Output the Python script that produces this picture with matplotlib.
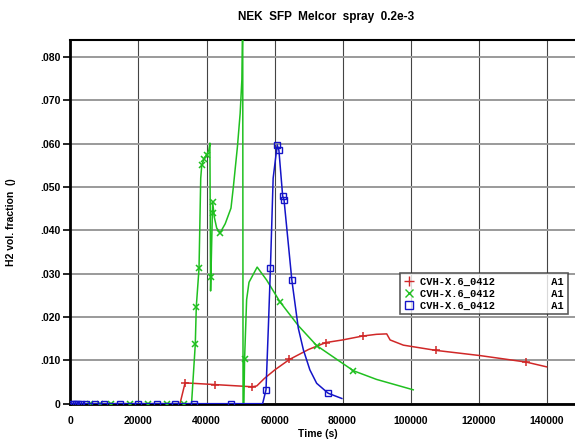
import numpy as np
import matplotlib.pyplot as plt
from matplotlib.lines import Line2D

# ---- data (time in s, H2 volume fraction) ----
red_t = [0, 32200, 33700, 42600, 53500, 54800, 57000, 60100, 64400, 70000,
         75100, 80000, 85900, 90000, 93000, 94000, 97900, 107400, 120400, 134000, 140000]
red_y = [0, 0, 0.0048, 0.0044, 0.0039, 0.0041, 0.0058, 0.0078, 0.0102, 0.0125,
         0.0141, 0.0147, 0.0156, 0.0160, 0.0161, 0.0147, 0.0135, 0.0123, 0.0111, 0.0096, 0.0085]
red_mt = [33700, 42600, 53500, 64400, 75100, 85900, 107400, 134000]
red_my = [0.0048, 0.0044, 0.0039, 0.0102, 0.0141, 0.0156, 0.0123, 0.0096]

green_t = [0, 35600, 36700, 37000, 37800, 38300, 38600, 39300, 40000, 40700, 41000,
           41200, 41300, 41800, 42300, 43000, 44000, 45500, 47200, 47900, 49100, 49900,
           50400, 50650, 50750, 51000, 51200, 51800, 52500, 54900, 57700, 61600, 67000,
           72400, 83200, 90000, 100800]
green_y = [0, 0, 0.0137, 0.0224, 0.0312, 0.052, 0.055, 0.0565, 0.0574, 0.0585, 0.0601,
           0.026, 0.0293, 0.0466, 0.0430, 0.0405, 0.0394, 0.0415, 0.0451, 0.050, 0.0593, 0.067,
           0.0747, 0.090, 0, 0, 0.0103, 0.024, 0.028, 0.0315, 0.0285, 0.0235, 0.0180,
           0.0134, 0.0076, 0.0056, 0.0032]
green_mt = [5700, 8700, 12000, 17500, 22900, 28300, 33500, 36700, 37000, 37800, 38600,
            39300, 40000, 41300, 41800, 42000, 44000, 51200, 61600, 72400, 83200]
green_my = [0, 0, 0, 0, 0, 0, 0, 0.0137, 0.0224, 0.0312, 0.055,
            0.0565, 0.0574, 0.0293, 0.0466, 0.0440, 0.0394, 0.0103, 0.0235, 0.0134, 0.0076]

blue_t = [0, 56500, 57500, 58200, 58800, 59600, 60800, 61300, 61600, 62400, 62800,
          65100, 67000, 68500, 70400, 72400, 75800, 79800]
blue_y = [0, 0, 0.0032, 0.0178, 0.0312, 0.052, 0.0597, 0.0584, 0.0555, 0.0479, 0.0470,
          0.0285, 0.0174, 0.0124, 0.0078, 0.0047, 0.0024, 0.0012]
blue_mt = [350, 1000, 1600, 2300, 3100, 4600, 7200, 9900, 14600, 20000, 25400, 30800,
           36300, 47100, 57400, 58800, 60800, 61300, 62400, 62800, 65100, 75800]
blue_my = [0, 0, 0, 0, 0, 0, 0, 0, 0, 0, 0, 0,
           0, 0, 0.0032, 0.0312, 0.0597, 0.0584, 0.0479, 0.0470, 0.0285, 0.0024]

x_ticks = [0, 20000, 40000, 60000, 80000, 100000, 120000, 140000]
y_ticks = [0, 0.01, 0.02, 0.03, 0.04, 0.05, 0.06, 0.07, 0.08]
y_labels = ['0', '.010', '.020', '.030', '.040', '.050', '.060', '.070', '.080']
leg_label = 'CVH-X.6_0412         A1'

red = '#d02828'
green = '#20c020'
blue = '#1414c8'

plt.rcParams['font.family'] = ['Liberation Sans', 'DejaVu Sans']
fig = plt.figure(figsize=(5.75, 4.44), dpi=100, facecolor='white')
ax = fig.add_axes([0.1226, 0.0908, 0.8870, 0.8193])

ax.plot(red_t, red_y, '-', color=red, lw=1.1, zorder=3)
ax.plot(red_mt, red_my, '+', color=red, ms=6, mew=1.1, zorder=3)
ax.plot(green_t, green_y, '-', color=green, lw=1.1, zorder=4)
ax.plot(green_mt, green_my, 'x', color=green, ms=4, mew=1.1, zorder=4)
ax.plot(blue_t, blue_y, '-', color=blue, lw=1.1, zorder=5)
ax.plot(blue_mt, blue_my, 's', color=blue, ms=4, mfc='none', mew=1.0, zorder=5)

ax.set_xlim(0, 150000)
ax.set_ylim(0, 0.0839)
ax.set_xticks(x_ticks)
ax.set_xticklabels([str(v) for v in x_ticks])
ax.set_yticks(y_ticks)
ax.set_yticklabels(y_labels)

ax.xaxis.grid(True, color='#444444', lw=0.8)
ax.yaxis.grid(True, color='#9a9a9a', lw=1.4)
ax.set_axisbelow(True)

for s in ['left', 'bottom']:
    ax.spines[s].set_linewidth(2)
ax.spines['top'].set_linewidth(1.5)
ax.spines['right'].set_visible(False)

ax.tick_params(axis='y', length=5, width=1.2, pad=2, labelsize=7.5)
ax.tick_params(axis='x', length=0, pad=9, labelsize=7.5)
for lab in ax.get_xticklabels() + ax.get_yticklabels():
    lab.set_fontweight('bold')

ax.set_xlabel('Time (s)', fontsize=7.5, fontweight='bold')
ax.xaxis.set_label_coords(0.484, -0.07)
ax.set_ylabel('H2 vol. fraction  ()', fontsize=7.5, fontweight='bold')
ax.yaxis.set_label_coords(-0.107, 0.5)

fig.text(0.567, 0.962, 'NEK  SFP  Melcor  spray  0.2e-3',
         ha='center', va='center', fontsize=8.5, fontweight='bold')

handles = [Line2D([], [], ls='none', marker='+', color=red, ms=7, mew=1),
           Line2D([], [], ls='none', marker='x', color=green, ms=6, mew=1),
           Line2D([], [], ls='none', marker='s', color=blue, ms=6, mfc='none', mew=1)]
leg = ax.legend(handles, [leg_label] * 3, loc='upper left',
                bbox_to_anchor=(400 / 575, 1 - 273 / 444), bbox_transform=fig.transFigure,
                prop={'family': 'Liberation Mono', 'weight': 'bold', 'size': 7.5},
                frameon=True, fancybox=False, borderpad=0.35, handlelength=1.0,
                handletextpad=0.6, labelspacing=0.2, borderaxespad=0)
leg.get_frame().set_edgecolor('#333333')
leg.get_frame().set_linewidth(1.2)
leg.set_zorder(10)

plt.savefig('out.png', dpi=100)
